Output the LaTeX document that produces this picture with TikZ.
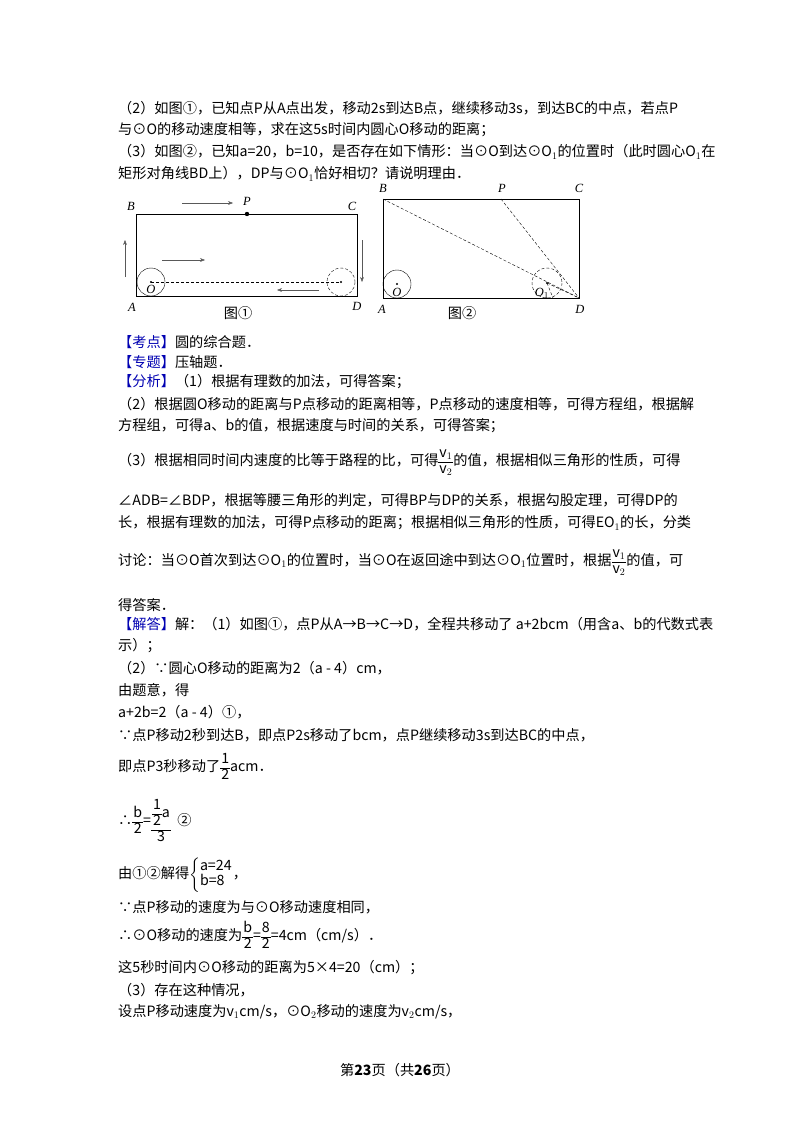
\documentclass[tikz,border=0pt]{standalone}
\usepackage{amsmath}
\usepackage{fontspec}
\setmainfont{Noto Sans CJK SC}
\newfontfamily\ser{Liberation Serif}
\usetikzlibrary{arrows.meta}
\begin{document}
\begin{tikzpicture}[x=1pt,y=-1pt,
  ln/.style={anchor=west,inner sep=0pt,font=\fontsize{14.2}{15}\selectfont},
  lab/.style={inner sep=0pt,font=\ser\itshape\fontsize{12.5}{13}\selectfont},
  arr/.style={-{Stealth[length=5pt]},gray!70!black,thin},
  dsh/.style={densely dashed,thin}]
\useasboundingbox[fill=white] (0,0) rectangle (800,1132);
\def\bl#1{\textcolor{blue!70!black}{#1}}
\def\fr#1#2{$\vcenter{\hbox{\renewcommand{\arraystretch}{1.05}\tabcolsep=1pt\begin{tabular}{c}#1\\\hline #2\end{tabular}}}$}
\node[ln] (l1) at (118,108) {（2）如图①，已知点P从A点出发，移动2s到达B点，继续移动3s，到达BC的中点，若点P};
\node[ln] (l2) at (118,130) {与⊙O的移动速度相等，求在这5s时间内圆心O移动的距离；};
\node[ln] (l3) at (118,152) {（3）如图②，已知a=20，b=10，是否存在如下情形：当⊙O到达⊙O$_1$的位置时（此时圆心O$_1$在};
\node[ln] (l4) at (118,174) {矩形对角线BD上），DP与⊙O$_1$恰好相切？请说明理由．};
% figure 1
\draw (136,214) -- (136,296) -- (357,296) -- (357,214) -- cycle;
\coordinate (O) at (151,282); \coordinate (Op) at (341,282);
\draw (O) circle (14); \draw[dsh] (Op) circle (14);
\draw[dsh] (O) -- (Op);
\fill (O) circle (1.2); \fill (Op) circle (1.2);
\fill (247,214) circle (2.2);
\node[lab] (P1) at (247,201) {P};
\node[lab] (B1) at (131,206) {B};
\node[lab] (C1) at (352,206) {C};
\node[lab] (A1) at (132,307) {A};
\node[lab] (D1) at (357,306) {D};
\node[lab] (O1l) at (151,289) {O};
\draw[arr] (182,203) -- (233,203);
\draw[arr] (162,260) -- (205,260);
\draw[arr] (319,290) -- (277,290);
\draw[arr] (125,277) -- (125,240);
\draw[arr] (362,240) -- (362,282);
\node[ln,anchor=center] (cap1) at (238,313) {图①};
% figure 2
\coordinate (A2) at (383,298); \coordinate (B2) at (383,199);
\coordinate (C2) at (579,199); \coordinate (D2) at (579,298);
\coordinate (P2) at (501,199);
\draw (A2) -- (B2) -- (C2) -- (D2) -- cycle;
\draw[dsh] (B2) -- (D2); \draw[dsh] (P2) -- (D2);
\coordinate (O2) at (397,284); \coordinate (O3) at (547,283);
\draw (O2) circle (14); \draw[dsh] (O3) circle (15);
\fill (O2) circle (1.2); \fill (O3) circle (1.2);
\draw[dsh] (O3) -- (553,298); \draw[dsh] (O3) -- (D2);
\node[lab] (B2l) at (383,188) {B};
\node[lab] (P2l) at (502,188) {P};
\node[lab] (C2l) at (579,188) {C};
\node[lab] (A2l) at (382,309) {A};
\node[lab] (D2l) at (580,309) {D};
\node[lab] (O2l) at (397,292) {O};
\node[lab] (O3l) at (542,293) {O$_1$};
\node[ln,anchor=center] (cap2) at (462,313) {图②};
% text
\node[ln] (t1) at (118,342) {\bl{【考点】}圆的综合题．};
\node[ln] (t2) at (118,362) {\bl{【专题】}压轴题．};
\node[ln] (t3) at (118,382) {\bl{【分析】}（1）根据有理数的加法，可得答案；};
\node[ln] (t4) at (118,404) {（2）根据圆O移动的距离与P点移动的距离相等，P点移动的速度相等，可得方程组，根据解};
\node[ln] (t5) at (118,426) {方程组，可得a、b的值，根据速度与时间的关系，可得答案；};
\node[ln] (t6) at (118,462) {（3）根据相同时间内速度的比等于路程的比，可得\fr{v$_1$}{v$_2$}的值，根据相似三角形的性质，可得};
\node[ln] (t7) at (118,500) {∠ADB=∠BDP，根据等腰三角形的判定，可得BP与DP的关系，根据勾股定理，可得DP的};
\node[ln] (t8) at (118,523) {长，根据有理数的加法，可得P点移动的距离；根据相似三角形的性质，可得EO$_1$的长，分类};
\node[ln] (t9) at (118,562) {讨论：当⊙O首次到达⊙O$_1$的位置时，当⊙O在返回途中到达⊙O$_1$位置时，根据\fr{v$_1$}{v$_2$}的值，可};
\node[ln] (t10) at (118,605) {得答案．};
\node[ln] (t11) at (118,624) {\bl{【解答】}解：（1）如图①，点P从A→B→C→D，全程共移动了 a+2bcm（用含a、b的代数式表};
\node[ln] (t12) at (118,646) {示）；};
\node[ln] (t13) at (118,668) {（2）∵圆心O移动的距离为2（a - 4）cm，};
\node[ln] (t14) at (118,690) {由题意，得};
\node[ln] (t15) at (118,712) {a+2b=2（a - 4）①，};
\node[ln] (t16) at (118,735) {∵点P移动2秒到达B，即点P2s移动了bcm，点P继续移动3s到达BC的中点，};
\node[ln] (t17) at (118,768) {即点P3秒移动了\fr{1}{2}acm．};
\node[ln] (t18) at (118,822) {∴\fr{b}{2}=\fr{\fr{1}{2}a}{3}\ \ ②};
\node[ln] (t19) at (118,875) {由①②解得$\left\{\vcenter{\hbox{\begin{tabular}{@{}l@{}}a=24\\ b=8\end{tabular}}}\right.$，};
\node[ln] (t20) at (118,907) {∵点P移动的速度为与⊙O移动速度相同，};
\node[ln] (t21) at (118,937) {∴⊙O移动的速度为\fr{b}{2}=\fr{8}{2}=4cm（cm/s）．};
\node[ln] (t22) at (118,968) {这5秒时间内⊙O移动的距离为5×4=20（cm）；};
\node[ln] (t23) at (118,990) {（3）存在这种情况，};
\node[ln] (t24) at (118,1012) {设点P移动速度为v$_1$cm/s，⊙O$_2$移动的速度为v$_2$cm/s，};
\node[ln,anchor=center] (ft) at (400,1070) {第\textbf{23}页（共\textbf{26}页）};
\end{tikzpicture}
\end{document}
